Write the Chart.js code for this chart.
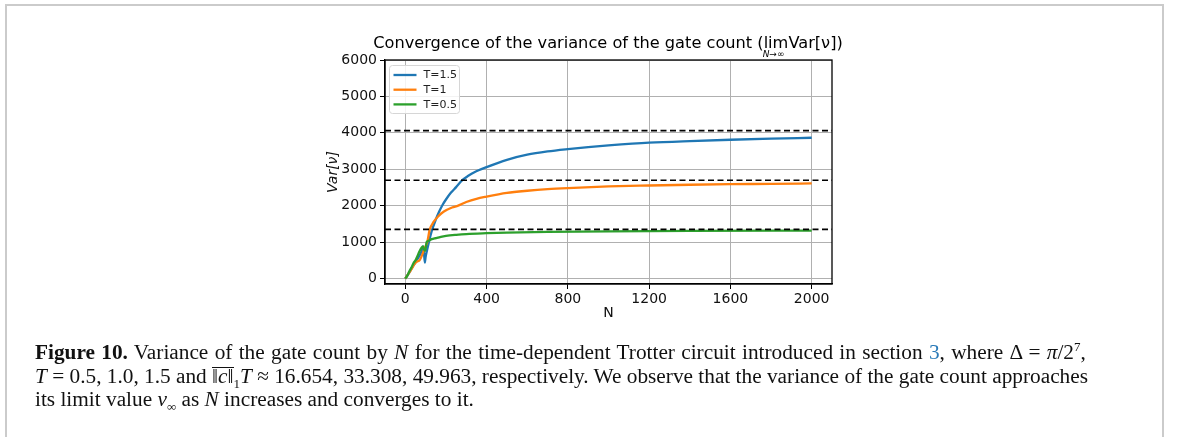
<!DOCTYPE html>
<html><head><meta charset="utf-8">
<script src="https://cdn.jsdelivr.net/npm/chart.js@4.4.1/dist/chart.umd.min.js"></script>
<style>
html,body{margin:0;padding:0;background:#fff;width:1179px;height:437px;overflow:hidden;}
#frame{position:absolute;left:5px;top:4px;width:1155px;height:460px;border:2px solid #cbcbcb;border-bottom:none;}
#wrap{position:absolute;left:0;top:0;width:1179px;height:437px;}
#title{position:absolute;left:0;width:1216px;top:33px;text-align:center;font-family:"DejaVu Sans";font-size:16.2px;color:#000;white-space:nowrap;}
#lim{position:relative;display:inline-block;}
#lim .sub{position:absolute;left:-1px;top:16px;font-size:9px;font-style:italic;}
#caption{position:absolute;left:35px;top:341px;font-family:"Liberation Serif","DejaVu Serif",serif;font-size:21.3px;line-height:23.5px;color:#111;white-space:nowrap;}
#caption sub,#caption sup{line-height:0;font-size:13px;}
.l1{word-spacing:1px;}
.ol{position:relative;}
.ol::after{content:"";position:absolute;left:0;right:0;top:3px;border-top:1.2px solid #111;}
a{color:#2a7ab8;text-decoration:none;}
</style></head>
<body>
<div id="frame"></div>
<div id="wrap"><canvas id="c" width="1179" height="437"></canvas></div>
<div id="title">Convergence of the variance of the gate count (<span id="lim">lim<span class="sub">N→∞</span></span>Var[ν])</div>
<div id="caption"><span class="l1"><b>Figure 10.</b> Variance of the gate count by <i>N</i> for the time-dependent Trotter circuit introduced in section <a>3</a>, where Δ = <i>π</i>/2<sup>7</sup>,</span><br><i>T</i> = 0.5, 1.0, 1.5 and <span class="ol">‖<i>c</i>‖</span><sub>1</sub><i>T</i> ≈ 16.654, 33.308, 49.963, respectively. We observe that the variance of the gate count approaches<br>its limit value <i>ν</i><sub>∞</sub> as <i>N</i> increases and converges to it.</div>
<script>
// ---- data ----
const seriesLabels = ["T=1.5", "T=1", "T=0.5"];
const seriesColors = ["#1f77b4", "#ff7f0e", "#2ca02c"];

const nBlue = [0, 20, 40, 60, 80, 88, 92, 96, 100, 110, 116, 124, 132, 150, 165, 181, 200, 225, 250, 279, 310, 340, 400, 500, 600, 700, 800, 900, 1000, 1200, 1400, 1600, 1800, 2000];
const vBlue = [0, 170, 360, 540, 740, 880, 700, 440, 600, 850, 1000, 1180, 1342, 1620, 1820, 2000, 2170, 2360, 2510, 2693, 2820, 2920, 3060, 3260, 3400, 3490, 3555, 3610, 3655, 3730, 3775, 3810, 3840, 3865];

const nOrange = [0, 20, 34, 45, 59, 70, 83, 96, 108, 120, 140, 164, 190, 230, 260, 300, 350, 400, 500, 600, 700, 800, 1000, 1200, 1400, 1600, 1800, 2000];
const vOrange = [0, 170, 290, 400, 470, 500, 650, 850, 1000, 1342, 1560, 1720, 1840, 1950, 2000, 2100, 2190, 2250, 2350, 2410, 2455, 2485, 2530, 2555, 2575, 2590, 2600, 2612];

const nGreen = [0, 10, 20, 30, 40, 50, 60, 70, 80, 86, 92, 98, 105, 115, 130, 150, 175, 200, 250, 300, 400, 500, 700, 1000, 1400, 2000];
const vGreen = [0, 80, 200, 300, 420, 500, 620, 750, 850, 885, 800, 760, 1000, 1040, 1080, 1110, 1145, 1170, 1200, 1222, 1245, 1262, 1282, 1297, 1307, 1316];

const limits = [4060, 2700, 1350];          // dashed limit values nu_inf
const xTicks = [0, 400, 800, 1200, 1600, 2000];
const yTicks = [0, 1000, 2000, 3000, 4000, 5000, 6000];
const xRange = [-100, 2100];
const yRange = [-150, 6000];

// ---- build datasets ----
const pts = (ns, vs) => ns.map((n, i) => ({x: n, y: vs[i]}));
const curves = [pts(nBlue, vBlue), pts(nOrange, vOrange), pts(nGreen, vGreen)];
const datasets = [];
limits.forEach(v => datasets.push({
  data: [{x: xRange[0], y: v}, {x: xRange[1], y: v}],
  borderColor: "#000", borderWidth: 1.6, borderDash: [6, 3.5],
  pointRadius: 0, showLine: true, order: 0, isLimit: true
}));
curves.forEach((d, i) => datasets.push({
  label: seriesLabels[i], data: d, borderColor: seriesColors[i],
  borderWidth: 2.3, pointRadius: 0, showLine: true,
  cubicInterpolationMode: "monotone", order: 3 - i
}));

const frameAndLegend = {
  id: "frameAndLegend",
  afterDatasetsDraw(chart) {
    const ctx = chart.ctx, a = chart.chartArea;
    ctx.save();
    ctx.strokeStyle = "#000"; ctx.lineWidth = 1.3;
    ctx.strokeRect(a.left, a.top, a.right - a.left, a.bottom - a.top);
    const bx = a.left + 4.5, by = a.top + 5.5, bw = 70, bh = 48;
    ctx.fillStyle = "rgba(255,255,255,0.85)";
    ctx.strokeStyle = "#d6d6d6"; ctx.lineWidth = 1;
    ctx.beginPath(); ctx.roundRect(bx, by, bw, bh, 3); ctx.fill(); ctx.stroke();
    ctx.font = "11px 'DejaVu Sans'"; ctx.textBaseline = "middle"; ctx.textAlign = "left";
    chart.data.datasets.filter(d => !d.isLimit).forEach((d, i) => {
      const y = by + 9.5 + i * 14.7;
      ctx.strokeStyle = d.borderColor; ctx.lineWidth = 2.3;
      ctx.beginPath(); ctx.moveTo(bx + 4, y); ctx.lineTo(bx + 27, y); ctx.stroke();
      ctx.fillStyle = "#222"; ctx.fillText(d.label, bx + 34, y + 0.5);
    });
    ctx.restore();
  }
};

const tickFmt = v => String(v);

new Chart(document.getElementById("c"), {
  type: "scatter",
  data: {datasets},
  options: {
    responsive: false, animation: false, devicePixelRatio: 1,
    layout: {padding: {left: 325, right: 347, top: 60, bottom: 113}},
    plugins: {legend: {display: false}, tooltip: {enabled: false}},
    scales: {
      x: {
        type: "linear", min: xRange[0], max: xRange[1],
        afterBuildTicks: s => { s.ticks = xTicks.map(v => ({value: v})); },
        afterFit: s => { s.height = 40; },
        grid: {color: "#b0b0b0", lineWidth: 1, tickLength: 5, tickColor: "#000", drawTicks: true},
        border: {display: true, color: "#000", width: 1.3},
        ticks: {color: "#111", font: {family: "DejaVu Sans", size: 14}, padding: 2, maxRotation: 0, callback: tickFmt},
        title: {display: true, text: "N", color: "#111", font: {family: "DejaVu Sans", size: 14}, padding: {top: 0, bottom: 2}}
      },
      y: {
        type: "linear", min: yRange[0], max: yRange[1],
        afterBuildTicks: s => { s.ticks = yTicks.map(v => ({value: v})); },
        afterFit: s => { s.width = 60; },
        grid: {color: "#b0b0b0", lineWidth: 1, tickLength: 5, tickColor: "#000", drawTicks: true},
        border: {display: true, color: "#000", width: 1.3},
        ticks: {color: "#111", font: {family: "DejaVu Sans", size: 14}, padding: 3, callback: tickFmt},
        title: {display: true, text: "Var[ν]", color: "#111", font: {family: "DejaVu Sans", size: 14, style: "italic"}, padding: {top: 0, bottom: 0}}
      }
    }
  },
  plugins: [frameAndLegend]
});
</script>
</body></html>
